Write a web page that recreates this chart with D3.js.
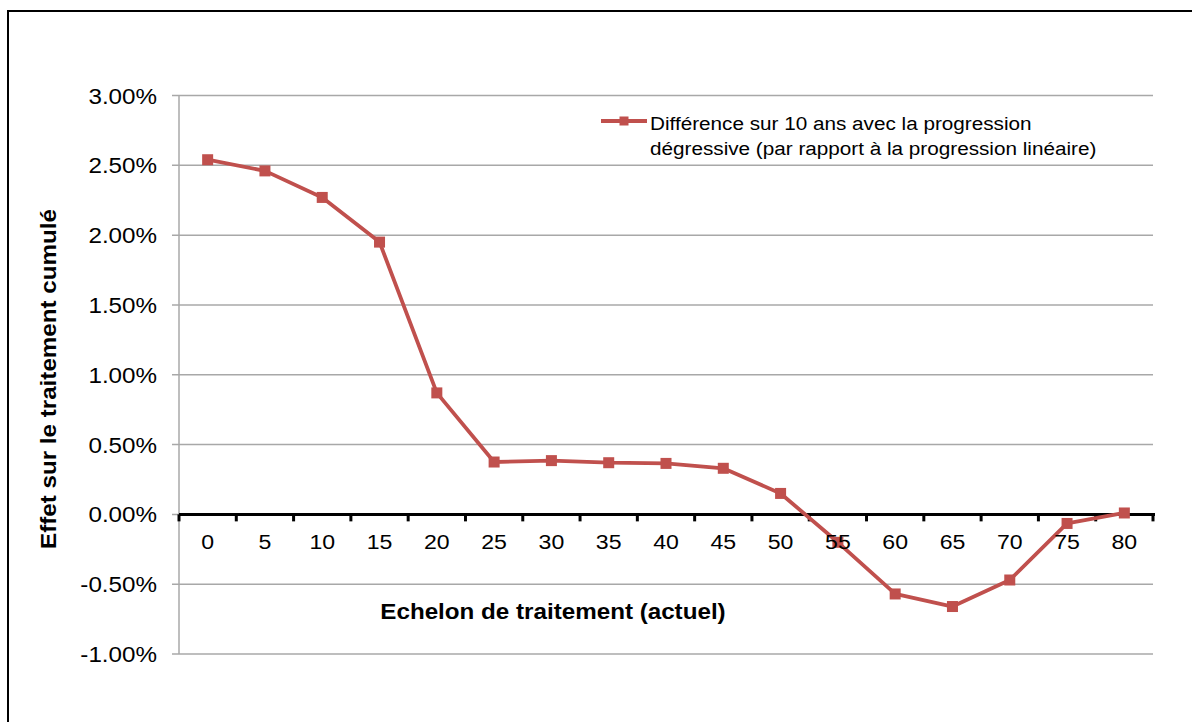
<!DOCTYPE html>
<html>
<head>
<meta charset="utf-8">
<script src="https://cdn.jsdelivr.net/npm/d3@7"></script>
<style>
  html, body { margin: 0; padding: 0; background: #fff; }
  svg { display: block; }
  text { font-family: "Liberation Sans", Arial, sans-serif; fill: #000; }
</style>
</head>
<body>
<svg id="chart" width="1192" height="722"></svg>
<script>
// Echelons de traitement (actuels)
const echelons = ["0", "5", "10", "15", "20", "25", "30", "35", "40", "45", "50", "55", "60", "65", "70", "75", "80"];
// Différence cumulée sur 10 ans, en %
const difference = [2.54, 2.46, 2.27, 1.95, 0.87, 0.375, 0.385, 0.37, 0.365, 0.33, 0.15, -0.20, -0.57, -0.66, -0.47, -0.065, 0.01];
// Graduations de l'axe vertical, en %
const yTicks = [-1, -0.5, 0, 0.5, 1, 1.5, 2, 2.5, 3];
const legendLines = ["Différence sur 10 ans avec la progression", "dégressive (par rapport à la progression linéaire)"];
const yTitle = "Effet sur le traitement cumulé";
const xTitle = "Echelon de traitement (actuel)";

const red = "#c0504d";
const grid = "#a8a8a8";
const sx = 1.1; // horizontal widening of the lettering

const svg = d3.select("#chart");

// cadre
svg.append("path")
  .attr("d", "M8,722 L8,11 L1192,11")
  .attr("fill", "none").attr("stroke", "#000").attr("stroke-width", 2);

const plot = { left: 179, right: 1153, top: 95.5, bottom: 654 };

const x = d3.scaleBand().domain(echelons).range([plot.left, plot.right]).padding(0);
const y = d3.scaleLinear().domain([-1, 3]).range([plot.bottom, plot.top]);
const cx = d => x(d) + x.bandwidth() / 2;
const pct = d => d3.format(".2f")(d).replace("\u2212", "-") + "%";

// horizontal gridlines + left stubs
svg.append("g").selectAll("line").data(yTicks).join("line")
  .attr("x1", plot.left - 7).attr("x2", plot.right)
  .attr("y1", d => y(d)).attr("y2", d => y(d))
  .attr("stroke", grid).attr("stroke-width", 1.5);

// vertical axis
svg.append("line")
  .attr("x1", plot.left).attr("x2", plot.left)
  .attr("y1", y(3)).attr("y2", y(-1))
  .attr("stroke", grid).attr("stroke-width", 1.5);

// y tick labels
svg.append("g").selectAll("text").data(yTicks).join("text")
  .attr("transform", d => `translate(157,${y(d) + 8}) scale(${sx},1)`)
  .attr("text-anchor", "end")
  .attr("font-size", 22)
  .attr("fill", "#111")
  .text(pct);

// x axis on zero
const xAxis = d3.axisBottom(x).tickSize(0).tickFormat("");
const gx = svg.append("g").attr("transform", `translate(0,${y(0)})`).call(xAxis);
gx.select(".domain").remove();
gx.append("line")
  .attr("x1", plot.left).attr("x2", plot.right + 2)
  .attr("stroke", "#000").attr("stroke-width", 3);
const bounds = echelons.map(d => x(d)).concat([plot.right]);
gx.selectAll(".tk").data(bounds).join("line").attr("class", "tk")
  .attr("x1", d => d).attr("x2", d => d)
  .attr("y1", 0).attr("y2", 7)
  .attr("stroke", "#000").attr("stroke-width", 3);

// series line
const line = d3.line().x((d, i) => cx(echelons[i])).y(d => y(d));
svg.append("path").datum(difference)
  .attr("d", line)
  .attr("fill", "none").attr("stroke", red).attr("stroke-width", 3.8)
  .attr("stroke-linejoin", "round");

svg.append("g").selectAll("rect").data(difference).join("rect")
  .attr("x", (d, i) => cx(echelons[i]) - 5.5)
  .attr("y", d => y(d) - 5.5)
  .attr("width", 11).attr("height", 11)
  .attr("fill", red);

// x tick labels (over the series)
svg.append("g").selectAll("text").data(echelons).join("text")
  .attr("transform", d => `translate(${cx(d)},${y(0) + 34.5}) scale(${sx},1)`)
  .attr("text-anchor", "middle")
  .attr("font-size", 21)
  .attr("fill", "#111")
  .text(d => d);

// axis titles
svg.append("text")
  .attr("transform", `translate(553,618.5) scale(${sx},1)`)
  .attr("text-anchor", "middle")
  .attr("font-size", 22).attr("font-weight", "bold")
  .text(xTitle);

svg.append("text")
  .attr("transform", `translate(55.5,379) rotate(-90) scale(${sx},1)`)
  .attr("text-anchor", "middle")
  .attr("font-size", 22).attr("font-weight", "bold")
  .text(yTitle);

// legend
const lg = svg.append("g");
lg.append("line").attr("x1", 601).attr("x2", 647).attr("y1", 121).attr("y2", 121)
  .attr("stroke", red).attr("stroke-width", 3.8);
lg.append("rect").attr("x", 619.5).attr("y", 116.5).attr("width", 9).attr("height", 9).attr("fill", red);
lg.selectAll("text").data(legendLines).join("text")
  .attr("transform", (d, i) => `translate(650,${129.5 + i * 25.5}) scale(1.09,1)`)
  .attr("font-size", 19)
  .attr("fill", "#111")
  .text(d => d);
</script>
</body>
</html>
